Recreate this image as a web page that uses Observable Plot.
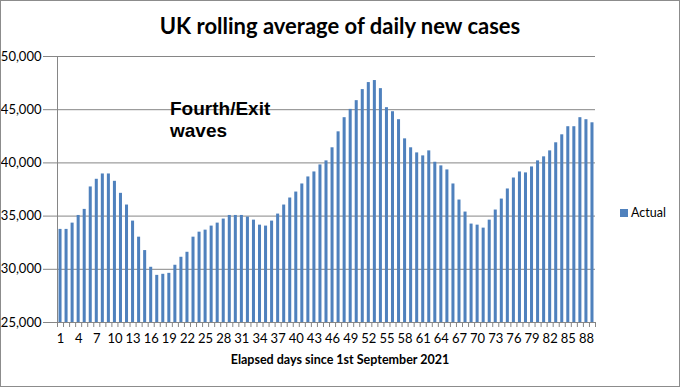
<!DOCTYPE html>
<html>
<head>
<meta charset="utf-8">
<script src="https://cdn.jsdelivr.net/npm/d3@7"></script>
<script src="https://cdn.jsdelivr.net/npm/@observablehq/plot@0.6"></script>
<style>
  html, body { margin: 0; padding: 0; background: #fff; }
  #wrap { position: relative; width: 680px; height: 387px; overflow: hidden; font-family: Lato, "Open Sans", sans-serif; }
  #frame { position: absolute; left: 0; top: 0; width: 678px; height: 385px; border: 1px solid #8c8c8c; pointer-events: none; }
  #chart { position: absolute; left: 0; top: 0; }
  .lbl { position: absolute; white-space: nowrap; color: #000; }
  #title { left: 0; width: 680px; text-align: center; top: 13px; font-size: 22px; font-weight: bold; line-height: 25px; }
  #xtitle { left: 0; width: 680px; text-align: center; top: 353px; font-size: 12.5px; font-weight: bold; line-height: 14px; }
  #note { left: 170px; top: 98px; font-family: "Liberation Sans", Arial, sans-serif; font-size: 19px; font-weight: bold; line-height: 22px; }
  #legend { left: 620px; top: 206px; font-size: 12.5px; line-height: 14px; }
  #legend span.sw { display: inline-block; width: 8px; height: 8px; background: #4F81BD; margin-right: 3px; vertical-align: 0px; }
</style>
</head>
<body>
<div id="wrap">
  <div id="chart"></div>
  <div class="lbl" id="title">UK rolling average of daily new cases</div>
  <div class="lbl" id="note">Fourth/Exit<br>waves</div>
  <div class="lbl" id="legend"><span class="sw"></span>Actual</div>
  <div class="lbl" id="xtitle">Elapsed days since 1st September 2021</div>
  <div id="frame"></div>
</div>
<script>
// Elapsed day numbers (1st September 2021 = day 1)
const days = d3.range(1, 90);
// Rolling average of daily new cases
const actual = [
  33750, 33750, 34340, 35060, 35630, 37740, 38460, 38960, 38960, 38270,
  37140, 36040, 34530, 33020, 31760, 30190, 29430, 29530, 29620, 30380,
  31130, 31600, 33020, 33490, 33680, 34060, 34340, 34720, 35060, 35060,
  35060, 34910, 34620, 34150, 34060, 34530, 35190, 36040, 36700, 37260,
  38020, 38680, 39150, 39810, 40190, 41420, 42920, 44250, 45030, 45850,
  46890, 47550, 47740, 46980, 45190, 44810, 44060, 42260, 41420, 40940,
  40660, 41130, 40060, 39720, 39340, 38020, 36510, 35380, 34250, 34150,
  33870, 34620, 35570, 36600, 37550, 38580, 39150, 39060, 39620, 40190,
  40570, 41130, 41890, 42640, 43400, 43400, 44250, 44060, 43770
];
// Axis ticks
const yTicks = [25000, 30000, 35000, 40000, 45000, 50000];
const xLabelTicks = d3.range(1, 89, 3);
const xBoundaries = d3.range(0.5, 90, 1);
const yMin = 25000, yMax = 50000;

const data = days.map((d, i) => ({day: d, value: actual[i]}));
const gray = "#868686";

const chart = Plot.plot({
  width: 680,
  height: 387,
  marginLeft: 57,
  marginRight: 85,
  marginTop: 56,
  marginBottom: 65,
  style: {fontFamily: "Lato, 'Open Sans', sans-serif", fontSize: "13px", background: "transparent", color: "#000"},
  x: {type: "linear", domain: [0.5, 89.5]},
  y: {domain: [yMin, yMax]},
  marks: [
    Plot.gridY(yTicks, {stroke: gray, strokeOpacity: 1}),
    Plot.rectY(data, {x1: d => d.day - 0.25, x2: d => d.day + 0.25, y1: () => yMin, y2: "value", fill: "#4F81BD"}),
    Plot.ruleY([yMin], {stroke: gray}),
    Plot.ruleX([0.5], {stroke: gray}),
    Plot.axisY(yTicks, {tickSize: 14, tickPadding: 2, tickFormat: d3.format(","), stroke: gray, fill: "#000", label: null, fontSize: 13}),
    Plot.axisX(xBoundaries, {tickSize: 5, tickFormat: () => "", stroke: gray, label: null}),
    Plot.axisX(xLabelTicks, {tickSize: 0, tickPadding: 11, fill: "#000", label: null, fontSize: 13})
  ]
});
document.getElementById("chart").appendChild(chart);
</script>
</body>
</html>
